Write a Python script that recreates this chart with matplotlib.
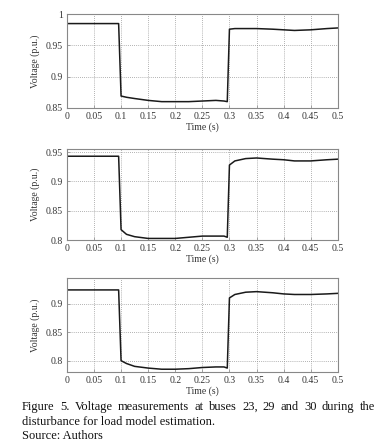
import matplotlib
matplotlib.use('Agg')
import matplotlib.pyplot as plt
import numpy as np

plt.rcParams['font.family'] = ['Liberation Serif', 'DejaVu Serif']

# time samples (s)
t = [0, 0.0955, 0.1, 0.11, 0.125, 0.15, 0.175, 0.2, 0.225, 0.25, 0.275, 0.29, 0.296,
     0.3, 0.31, 0.33, 0.35, 0.38, 0.4, 0.42, 0.45, 0.48, 0.5]

# bus 23
v23 = [0.985, 0.985, 0.869, 0.867, 0.865, 0.862, 0.860, 0.860, 0.860, 0.861, 0.862, 0.861, 0.860,
       0.976, 0.977, 0.977, 0.977, 0.976, 0.975, 0.974, 0.975, 0.977, 0.978]
# bus 29
v29 = [0.943, 0.943, 0.818, 0.810, 0.806, 0.803, 0.803, 0.803, 0.805, 0.807, 0.807, 0.807, 0.805,
       0.928, 0.935, 0.939, 0.940, 0.938, 0.937, 0.935, 0.935, 0.937, 0.938]
# bus 30
v30 = [0.924, 0.924, 0.800, 0.795, 0.790, 0.787, 0.785, 0.785, 0.786, 0.788, 0.789, 0.789, 0.787,
       0.910, 0.916, 0.920, 0.921, 0.919, 0.917, 0.916, 0.916, 0.917, 0.918]

series = [v23, v29, v30]
ylims = [(0.85, 1.0), (0.80, 0.955), (0.78, 0.945)]
yticks = [[0.85, 0.9, 0.95, 1.0], [0.8, 0.85, 0.9, 0.95], [0.8, 0.85, 0.9]]
ytlabels = [['0.85', '0.9', '0.95', '1'], ['0.8', '0.85', '0.9', '0.95'], ['0.8', '0.85', '0.9']]
xticks = [0, 0.05, 0.1, 0.15, 0.2, 0.25, 0.3, 0.35, 0.4, 0.45, 0.5]
xtlabels = ['0', '0.05', '0.1', '0.15', '0.2', '0.25', '0.3', '0.35', '0.4', '0.45', '0.5']

caption = ['Figure 5. Voltage measurements at buses 23, 29 and 30 during the',
           'disturbance for load model estimation.',
           'Source: Authors']

# axes boxes (left, bottom, width, height)
boxes = [(0.176, 0.757, 0.713, 0.211),
         (0.176, 0.459, 0.713, 0.205),
         (0.176, 0.162, 0.713, 0.212)]

fig = plt.figure(figsize=(3.8, 4.44), dpi=100)
for v, yl, yt, ytl, box in zip(series, ylims, yticks, ytlabels, boxes):
    ax = fig.add_axes(box)
    ax.plot(t, v, color='#1a1a1a', linewidth=1.1)
    ax.set_xlim(0, 0.5)
    ax.set_ylim(*yl)
    ax.set_xticks(xticks)
    ax.set_xticklabels(xtlabels)
    ax.set_yticks(yt)
    ax.set_yticklabels(ytl)
    ax.grid(True, color='#999999', linestyle=(0, (1, 1.5)), linewidth=0.6)
    for s in ax.spines.values():
        s.set_color('#888888')
        s.set_linewidth(0.8)
    ax.tick_params(direction='in', length=2, width=0.5, colors='#888888',
                   labelsize=7, labelcolor='#333333', pad=3)
    ax.set_xlabel('Time (s)', fontsize=7, color='#333333', labelpad=1)
    ax.set_ylabel('Voltage (p.u.)', fontsize=7, color='#333333', labelpad=4)

# caption: first line justified to the right edge
x0, x1 = 22 / 380, 375 / 380
ys = [0.083, 0.050, 0.018]
fs = 9
renderer = fig.canvas.get_renderer()
words = caption[0].split(' ')
arts = [fig.text(0, ys[0], w, fontsize=fs, va='center', ha='left', color='#111111') for w in words]
widths = [a.get_window_extent(renderer).width / fig.bbox.width for a in arts]
gap = (x1 - x0 - sum(widths)) / (len(words) - 1)
x = x0
for a, w in zip(arts, widths):
    a.set_x(x)
    x += w + gap
for line, y in zip(caption[1:], ys[1:]):
    fig.text(x0, y, line, fontsize=fs, va='center', ha='left', color='#111111')

fig.savefig('out.png', dpi=100)
